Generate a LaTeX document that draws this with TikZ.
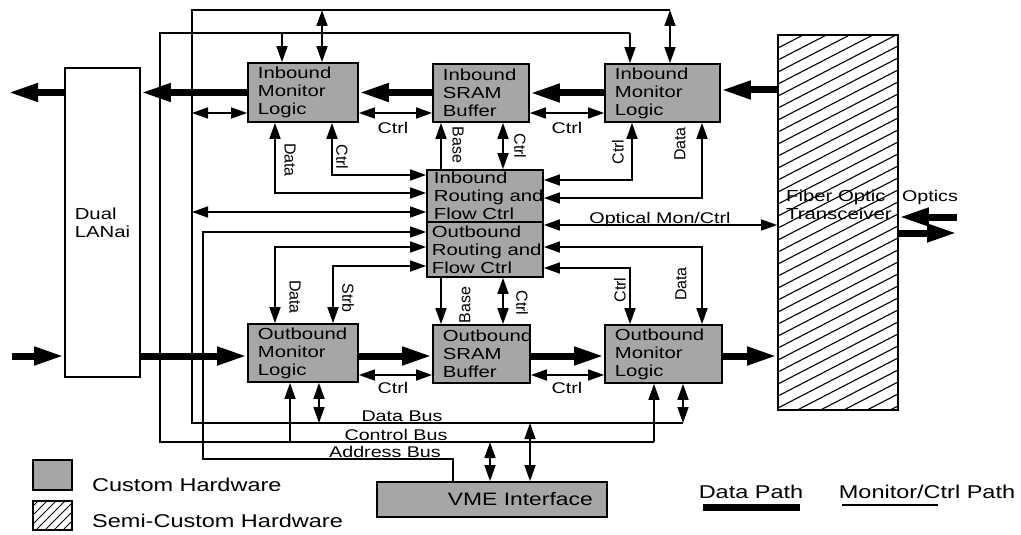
\documentclass[tikz,border=0pt]{standalone}
\usepackage{fontspec}
\newfontfamily\labh[FakeStretch=1.27]{Liberation Sans}
\newfontfamily\labv{Liberation Sans}
\newcommand\boxfont{\labh\fontsize{16}{18}\selectfont}
\newcommand\labfont{\labh\fontsize{15.5}{18}\selectfont}
\newcommand\vlabfont{\labv\fontsize{16}{18}\selectfont}
\newcommand\legfont{\labh\fontsize{18.5}{21}\selectfont}
\newcommand\vmefont{\labh\fontsize{18}{20}\selectfont}
\usetikzlibrary{arrows.meta}
\begin{document}
\begin{tikzpicture}[x=1pt,y=-1pt,
  >={Triangle[length=16pt,width=11pt]},
  ln/.style={line width=1.7pt},
  thk/.style={line width=7pt,-{Triangle[length=30pt,width=17pt]}},
  cbox/.style 2 args={draw,line width=1.8pt,fill=black!35,inner sep=0pt,
    path picture={\node[anchor=west,align=left,inner sep=0pt,minimum width=0pt,minimum height=0pt,font=\boxfont] at ([xshift=#2]path picture bounding box.west) {#1};}},
  lbl/.style={font=\labfont,inner sep=0pt},
  vlbl/.style={font=\vlabfont,inner sep=0pt},
  legt/.style={font=\legfont,inner sep=0pt}
]
\useasboundingbox (0,0) rectangle (1021,535);

% ---- hatch of the transceiver
\begin{scope}
  \clip (778,35) rectangle (898,410);
  \foreach \i in {0,...,37} \draw[line width=1.1pt] (778,48+\i*12) -- ++(120,-62);
\end{scope}

% ---- blocks
\node[draw,line width=1.8pt,fill=white,minimum width=75pt,minimum height=309pt,align=left,font=\boxfont] (lan) at (102.5,222.5) {Dual\\LANai};
\node[draw,line width=1.8pt,minimum width=120pt,minimum height=375pt] (fot) at (838,222.5) {};
\node[anchor=west,align=left,inner sep=0pt,font=\boxfont] (fott) at (786,205) {Fiber Optic\\Transceiver};

\node[cbox={Inbound\\Monitor\\Logic}{9pt},minimum width=110pt,minimum height=59pt] (ilm) at (303,92.5) {};
\node[cbox={Inbound\\SRAM\\Buffer}{9pt},minimum width=96pt,minimum height=58pt] (isr) at (481,93) {};
\node[cbox={Inbound\\Monitor\\Logic}{9pt},minimum width=115pt,minimum height=58pt] (irm) at (662.5,93) {};
\node[cbox={Inbound\\Routing and\\Flow Ctrl}{6pt},minimum width=116pt,minimum height=52pt] (irt) at (485,196) {};
\node[cbox={Outbound\\Routing and\\Flow Ctrl}{4pt},minimum width=116pt,minimum height=55pt] (ort) at (485,249.5) {};
\node[cbox={Outbound\\Monitor\\Logic}{9pt},minimum width=110pt,minimum height=58pt] (olm) at (303,353) {};
\node[cbox={Outbound\\SRAM\\Buffer}{9pt},minimum width=97pt,minimum height=58pt] (osr) at (481.5,354) {};
\node[cbox={Outbound\\Monitor\\Logic}{9pt},minimum width=117pt,minimum height=58pt] (orm) at (663.5,354) {};
\node[cbox={\vmefont VME Interface}{70pt},minimum width=230pt,minimum height=35pt] (vme) at (492,499.5) {};

% ---- bus coordinates
\coordinate (dbT) at (192,10);
\coordinate (dbB) at (192,423);
\coordinate (dbR1) at (670,10);
\coordinate (dbR2) at (683,423);
\coordinate (cbT) at (160,33);
\coordinate (cbB) at (160,442);
\coordinate (cbR1) at (630,33);
\coordinate (cbR2) at (654,442);
\coordinate (abT) at (203,232);
\coordinate (abB) at (203,459);
\coordinate (outL) at (8,92.5);
\coordinate (inL) at (12,356);
\coordinate (optin) at (957,217);
\coordinate (optout) at (957,233);

% ---- buses
\draw[ln] (dbR1) -- (dbT) -- (dbB) -- (dbR2);
\draw[ln] (cbR1) -- (cbT) -- (cbB) -- (cbR2);
\draw[ln,->] (vme.north -| 453,0) |- (abB) -- (abT) -- (ort.west |- abT);

% ---- data paths (thick)
\draw[thk] (lan.west |- ilm.west) -- (outL);
\draw[thk] (ilm.west) -- (lan.east |- ilm.west);
\draw[thk] (isr.west |- ilm.west) -- (ilm.east);
\draw[thk] (irm.west) -- (isr.east |- irm.west);
\draw[thk] (fot.west |- 0,90) -- (irm.east |- 0,90);
\draw[thk] (inL) -- (lan.west |- inL);
\draw[thk] (lan.east |- inL) -- (olm.west |- inL);
\draw[thk] (olm.east |- inL) -- (osr.west |- inL);
\draw[thk] (osr.east |- inL) -- (orm.west |- inL);
\draw[thk] (orm.east |- inL) -- (fot.west |- inL);
\draw[thk] (optin) -- (fot.east |- optin);
\draw[thk] (fot.east |- optout) -- (optout);

% ---- top row control
\draw[ln,<->] (ilm.east |- 0,113) -- (isr.west |- 0,113);
\draw[ln,<->] (isr.east |- 0,113) -- (irm.west |- 0,113);
\draw[ln,->] (cbT -| 282,0) -- (ilm.north -| 282,0);
\draw[ln,->] (cbR1) -- (irm.north -| cbR1);
\draw[ln,<->] (dbT -| 322,0) -- (ilm.north -| 322,0);
\draw[ln,<->] (dbR1) -- (irm.north -| dbR1);
\draw[ln,<->] (dbT |- 0,113) -- (ilm.west |- 0,113);

% ---- routing connections
\draw[ln,<->] (ilm.south -| 275,0) |- (irt.west |- 0,193);
\draw[ln,<->] (ilm.south -| 332,0) |- (irt.west |- 0,175);
\draw[ln,<->] (dbT |- 0,212) -- (irt.west |- 0,212);
\draw[ln,->] (irt.north -| 441,0) -- (isr.south -| 441,0);
\draw[ln,<->] (isr.south -| 503,0) -- (irt.north -| 503,0);
\draw[ln,<->] (irm.south -| 632,0) |- (irt.east |- 0,180);
\draw[ln,<->] (irm.south -| 702,0) |- (irt.east |- 0,198);
\draw[ln,<->] (ort.east |- 0,225) -- (fot.west |- 0,225);
\draw[ln,<->] (olm.north -| 275,0) |- (ort.west |- 0,247);
\draw[ln,<->] (olm.north -| 333,0) |- (ort.west |- 0,266);
\draw[ln,<->] (orm.north -| 702,0) |- (ort.east |- 0,247);
\draw[ln,<->] (orm.north -| 630,0) |- (ort.east |- 0,268);
\draw[ln,->] (ort.south -| 441,0) -- (osr.north -| 441,0);
\draw[ln,<->] (ort.south -| 503,0) -- (osr.north -| 503,0);

% ---- bottom row control
\draw[ln,<->] (olm.east |- 0,375) -- (osr.west |- 0,375);
\draw[ln,<->] (osr.east |- 0,375) -- (orm.west |- 0,375);
\draw[ln,<->] (olm.south -| 319,0) -- (dbB -| 319,0);
\draw[ln,->] (cbB -| 290,0) -- (olm.south -| 290,0);
\draw[ln,->] (cbR2) -- (orm.south -| cbR2);
\draw[ln,<->] (orm.south -| dbR2) -- (dbR2);
\draw[ln,<->] (vme.north -| 490,0) -- (cbB -| 490,0);
\draw[ln,<->] (vme.north -| 530,0) -- (dbB -| 530,0);

% ---- labels
\node[lbl] (c1) at (393,128) {Ctrl};
\node[lbl] (c2) at (567,128) {Ctrl};
\node[lbl] (c3) at (393,388) {Ctrl};
\node[lbl] (c4) at (567,388) {Ctrl};
\node[vlbl,rotate=-90] (v1) at (290,160) {Data};
\node[vlbl,rotate=-90] (v2) at (342,157) {Ctrl};
\node[vlbl,rotate=-90] (v3) at (458,145) {Base};
\node[vlbl,rotate=-90] (v4) at (520,146) {Ctrl};
\node[vlbl,rotate=90] (v5) at (618,152) {Ctrl};
\node[vlbl,rotate=90] (v6) at (680,144) {Data};
\node[vlbl,rotate=-90] (v7) at (295,297) {Data};
\node[vlbl,rotate=-90] (v8) at (348,298) {Strb};
\node[vlbl,rotate=90] (v9) at (465,305) {Base};
\node[vlbl,rotate=-90] (v10) at (522,303) {Ctrl};
\node[vlbl,rotate=90] (v11) at (620,290) {Ctrl};
\node[vlbl,rotate=90] (v12) at (681,284) {Data};
\node[lbl,anchor=base] (bd) at (402,421) {Data Bus};
\node[lbl,anchor=base] (bc) at (396,440) {Control Bus};
\node[lbl,anchor=base] (ba) at (385,457) {Address Bus};
\node[lbl,anchor=base] (om) at (660,223) {Optical Mon/Ctrl};
\node[lbl] (op) at (930,197) {Optics};

% ---- legend
\node[draw,line width=1.5pt,fill=black!35,minimum width=39pt,minimum height=30pt,inner sep=0pt] (lg1) at (52.5,475) {};
\begin{scope}
  \clip (33,501) rectangle (72,530);
  \foreach \i in {0,...,8} \draw[line width=1pt] (33,506+\i*9) -- ++(39,-39);
\end{scope}
\node[draw,line width=1.5pt,minimum width=39pt,minimum height=29pt,inner sep=0pt] (lg2) at (52.5,515.5) {};
\node[legt,anchor=west] (lt1) at (92,485) {Custom Hardware};
\node[legt,anchor=west] (lt2) at (92,521) {Semi-Custom Hardware};
\node[legt] (dpt) at (751,492) {Data Path};
\node[legt] (mpt) at (927,492) {Monitor/Ctrl Path};
\coordinate (dp1) at (703,507);
\coordinate (dp2) at (800,507);
\coordinate (mp1) at (842,505);
\coordinate (mp2) at (938,505);
\draw[line width=7pt] (dp1) -- (dp2);
\draw[line width=1.4pt] (mp1) -- (mp2);
\end{tikzpicture}
\end{document}
